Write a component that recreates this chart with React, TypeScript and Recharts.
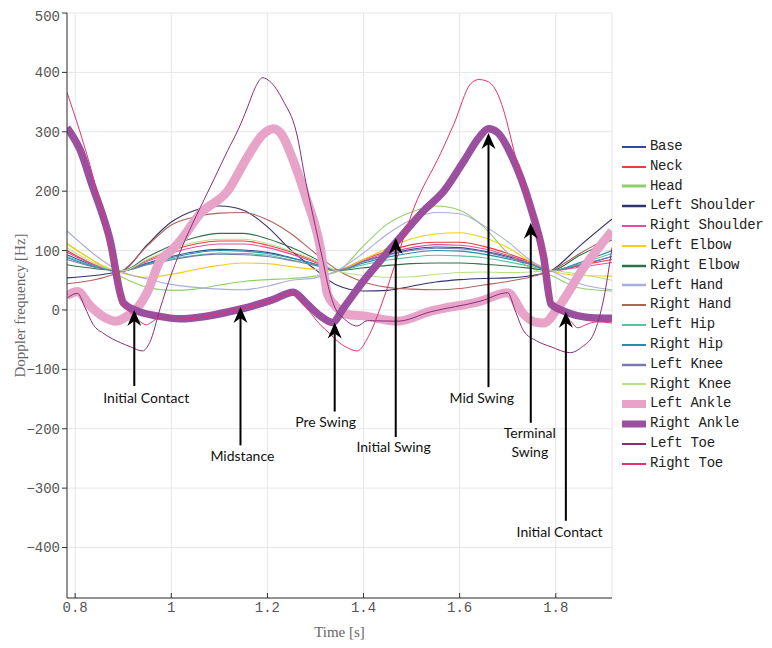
import React from 'react';
import {
  LineChart,
  Line,
  XAxis,
  YAxis,
  CartesianGrid,
  ReferenceLine,
  ReferenceDot,
  Legend,
} from 'recharts';

// ---------- data ----------
const xTicks = [0.8, 1, 1.2, 1.4, 1.6, 1.8];
const yTicks = [-400, -300, -200, -100, 0, 100, 200, 300, 400, 500];

const torsoTime = [0.783, 0.898, 0.95, 1.0, 1.05, 1.1, 1.15, 1.2, 1.25, 1.3, 1.344, 1.4, 1.45, 1.5, 1.55, 1.6, 1.65, 1.7, 1.75, 1.79, 1.85, 1.917];
const base = [93, 66, 79, 90, 98, 102, 101, 97, 88, 77, 66, 82, 93, 102, 106, 105, 99, 90, 77, 66, 75, 90];
const neck = [100, 65, 84, 100, 111, 116, 116, 109, 97, 82, 67, 85, 99, 110, 114, 114, 107, 95, 80, 66, 75, 85];
const head = [112, 55, 38, 33, 35, 42, 48, 51, 53, 57, 64, 108, 145, 165, 175, 168, 140, 96, 70, 58, 37, 32];
const leftShoulder = [54, 66, 110, 148, 168, 175, 168, 140, 100, 68, 42, 32, 33, 40, 47, 51, 53, 54, 58, 66, 108, 153];
const rightShoulder = [97, 66, 82, 96, 106, 111, 111, 105, 94, 80, 66, 83, 96, 105, 110, 109, 103, 92, 78, 66, 72, 80];
const leftElbow = [111, 62, 55, 60, 68, 75, 79, 78, 73, 68, 66, 85, 104, 120, 128, 130, 122, 105, 80, 66, 58, 57];
const rightElbow = [76, 66, 89, 108, 122, 129, 129, 120, 105, 86, 66, 71, 75, 78, 79, 79, 77, 74, 70, 66, 92, 118];
const leftHand = [133, 64, 52, 43, 38, 35, 34, 40, 50, 54, 66, 96, 128, 152, 164, 162, 142, 115, 82, 66, 44, 34];
const rightHand = [44, 66, 108, 143, 157, 163, 164, 152, 128, 95, 68, 47, 38, 35, 34, 36, 42, 48, 56, 66, 95, 125];
const leftHip = [90, 66, 77, 86, 92, 96, 95, 92, 84, 75, 66, 76, 84, 89, 92, 91, 88, 81, 73, 66, 78, 95];
const rightHip = [88, 66, 78, 88, 96, 100, 99, 95, 87, 77, 66, 79, 89, 96, 100, 99, 94, 86, 76, 66, 80, 100];
const leftKnee = [85, 66, 76, 84, 91, 94, 93, 90, 83, 75, 66, 81, 92, 100, 104, 103, 98, 88, 77, 66, 76, 90];
const rightKnee = [105, 66, 85, 102, 114, 119, 119, 112, 99, 83, 66, 58, 55, 56, 60, 63, 64, 63, 64, 66, 60, 50];

const leftAnkleT = [0.783, 0.805, 0.83, 0.86, 0.885, 0.905, 0.929, 0.95, 0.977, 1.0, 1.02, 1.06, 1.117, 1.158, 1.19, 1.213, 1.23, 1.254, 1.28, 1.31, 1.325, 1.34, 1.37, 1.4, 1.47, 1.54, 1.644, 1.7, 1.733, 1.755, 1.775, 1.804, 1.858, 1.917];
const leftAnkleV = [24, 31, 8, -12, -19, -12, 3, 30, 83, 100, 118, 162, 200, 257, 295, 305, 295, 251, 190, 105, 27, 8, -8, -10, -19, -2, 15, 29, -7, -20, -22, 3, 71, 133];

const rightAnkleT = [0.783, 0.81, 0.837, 0.855, 0.873, 0.894, 0.9, 0.93, 0.97, 1.02, 1.07, 1.12, 1.17, 1.21, 1.254, 1.28, 1.31, 1.335, 1.36, 1.4, 1.435, 1.47, 1.525, 1.567, 1.609, 1.64, 1.66, 1.68, 1.706, 1.748, 1.775, 1.79, 1.817, 1.873, 1.917];
const rightAnkleV = [307, 270, 206, 165, 116, 27, 12, -2, -10, -15, -11, -3, 7, 17, 30, 12, -10, -21, 5, 49, 83, 116, 167, 200, 251, 290, 305, 298, 263, 172, 88, 10, -2, -13, -14];

const leftToeT = [0.783, 0.805, 0.82, 0.837, 0.86, 0.894, 0.915, 0.94, 0.955, 0.977, 1.0, 1.03, 1.06, 1.09, 1.117, 1.14, 1.158, 1.175, 1.19, 1.205, 1.233, 1.26, 1.28, 1.3, 1.315, 1.328, 1.34, 1.36, 1.387, 1.408, 1.47, 1.54, 1.644, 1.7, 1.715, 1.733, 1.76, 1.79, 1.83, 1.855, 1.879, 1.9, 1.917];
const leftToeV = [20, 28, 5, -24, -40, -55, -62, -69, -55, 3, 60, 120, 172, 222, 268, 305, 340, 375, 391, 385, 352, 300, 215, 140, 85, 35, 5, -15, -27, -18, -19, -3, 15, 29, 0, -35, -52, -62, -72, -62, -40, 20, 105];

const rightToeT = [0.783, 0.81, 0.837, 0.86, 0.88, 0.894, 0.91, 0.93, 0.948, 0.96, 0.975, 1.0, 1.04, 1.08, 1.12, 1.17, 1.21, 1.254, 1.28, 1.31, 1.33, 1.345, 1.37, 1.387, 1.41, 1.44, 1.47, 1.505, 1.56, 1.588, 1.623, 1.64, 1.66, 1.68, 1.69, 1.72, 1.748, 1.775, 1.79, 1.81, 1.83, 1.846, 1.865, 1.885, 1.917];
const rightToeV = [366, 300, 225, 150, 80, 22, 0, -16, -25, -20, -13, -13, -14, -10, -3, 7, 16, 28, 5, -25, -40, -52, -65, -69, -45, 15, 88, 172, 263, 313, 381, 388, 384, 362, 340, 246, 172, 88, 15, -3, -18, -30, -24, -20, -22];

const seriesNames = ['Base', 'Neck', 'Head', 'Left Shoulder', 'Right Shoulder', 'Left Elbow', 'Right Elbow', 'Left Hand', 'Right Hand', 'Left Hip', 'Right Hip', 'Left Knee', 'Right Knee', 'Left Ankle', 'Right Ankle', 'Left Toe', 'Right Toe'];
const seriesTimes = [torsoTime, torsoTime, torsoTime, torsoTime, torsoTime, torsoTime, torsoTime, torsoTime, torsoTime, torsoTime, torsoTime, torsoTime, torsoTime, leftAnkleT, rightAnkleT, leftToeT, rightToeT];
const seriesValues = [base, neck, head, leftShoulder, rightShoulder, leftElbow, rightElbow, leftHand, rightHand, leftHip, rightHip, leftKnee, rightKnee, leftAnkleV, rightAnkleV, leftToeV, rightToeV];

const annotations = [
  { text: ['Initial Contact'], t: 0.923, tail: -128, tip: 0, lt: 0.948, lv: -148 },
  { text: ['Midstance'], t: 1.144, tail: -228, tip: 5, lt: 1.148, lv: -246 },
  { text: ['Pre Swing'], t: 1.34, tail: -171, tip: -21, lt: 1.321, lv: -189 },
  { text: ['Initial Swing'], t: 1.467, tail: -214, tip: 121, lt: 1.4625, lv: -230 },
  { text: ['Mid Swing'], t: 1.66, tail: -130, tip: 298, lt: 1.646, lv: -148 },
  { text: ['Terminal', 'Swing'], t: 1.748, tail: -190, tip: 147, lt: 1.746, lv: -208 },
  { text: ['Initial Contact'], t: 1.821, tail: -355, tip: -3, lt: 1.808, lv: -374 },
];

// ---------- styles ----------
const colors = ['#2c4d9c', '#ee3b3b', '#8fcf6a', '#33336e', '#e0509a', '#f5cf10', '#2f7048', '#a9acdc', '#b0625c', '#55c4a0', '#2290aa', '#7a7ab0', '#b8e088', '#e8a3c9', '#9a4f9f', '#8a2d78', '#e8306e'];
const widths = [1.1, 1.1, 1.1, 1.1, 1.1, 1.1, 1.1, 1.1, 1.1, 1.1, 1.1, 1.1, 1.1, 9, 7.5, 1, 1];
const legendWidths = [2, 2, 3, 2.5, 2, 2, 2.5, 2.5, 2, 2, 2, 2.5, 2, 8, 7, 2, 2];

const series = seriesNames.map((name, i) => ({
  name,
  color: colors[i],
  width: widths[i],
  legendWidth: legendWidths[i],
  data: seriesTimes[i].map((t, j) => ({ t, v: seriesValues[i][j] })),
}));

const MONO = '"Liberation Mono", "DejaVu Sans Mono", monospace';
const SERIF = '"Liberation Serif", "DejaVu Serif", serif';
const SANS = 'Lato, "Open Sans", sans-serif';

const Arrow = (props: any) => {
  const { x1, y1, x2, y2 } = props;
  const hl = 16;
  const hw = 7;
  const notch = 11;
  return (
    <g>
      <line x1={x1} y1={y1} x2={x2} y2={y2 + notch} stroke="#000" strokeWidth={2} />
      <path d={`M${x2},${y2} L${x2 - hw},${y2 + hl} L${x2},${y2 + notch} L${x2 + hw},${y2 + hl} Z`} fill="#000" />
    </g>
  );
};

const makeLabel = (lines: string[]) => (p: any) => (
  <text x={p.cx} y={p.cy} textAnchor="middle" fontFamily={SANS} fontSize={14} fill="#111">
    {lines.map((l, k) => (
      <tspan key={k} x={p.cx} dy={k === 0 ? 5 : 19}>
        {l}
      </tspan>
    ))}
  </text>
);

const XTick = (p: any) => {
  const { x, y, payload } = p;
  return (
    <g>
      <line x1={x} x2={x} y1={y} y2={y - 5} stroke="#333" strokeWidth={1} />
      <text x={x} y={y + 14} textAnchor="middle" fontFamily={MONO} fontSize={14} fill="#555">
        {String(payload.value)}
      </text>
    </g>
  );
};

const LegendContent = () => (
  <div style={{ fontFamily: MONO, fontSize: 14, letterSpacing: '-0.3px', color: '#222', lineHeight: '19.8px', overflow: 'visible' }}>
    {series.map((s) => (
      <div key={s.name} style={{ display: 'flex', alignItems: 'center', height: 19.8, whiteSpace: 'nowrap' }}>
        <svg width={26} height={12} style={{ marginRight: 4, flex: 'none' }}>
          <line x1={2} x2={26} y1={6} y2={6} stroke={s.color} strokeWidth={s.legendWidth} />
        </svg>
        <span>{s.name}</span>
      </div>
    ))}
  </div>
);

export default function App() {
  return (
    <LineChart width={764} height={632} margin={{ top: 5, right: 160, left: 0, bottom: 0 }}>
      <CartesianGrid stroke="#e6e6e6" strokeWidth={1} />
      <XAxis
        type="number"
        dataKey="t"
        domain={[0.783, 1.917]}
        allowDataOverflow
        ticks={xTicks}
        height={42}
        tickSize={0}
        tickMargin={0}
        tickLine={false}
        tick={<XTick />}
        axisLine={{ stroke: '#333' }}
        label={{
          content: (p: any) => {
            const vb = p.viewBox;
            return (
              <text x={vb.x + vb.width / 2} y={vb.y + 39} textAnchor="middle" fontFamily={SERIF} fontSize={15} fill="#666">
                Time [s]
              </text>
            );
          },
        }}
      />
      <YAxis
        type="number"
        domain={[-485, 500]}
        allowDataOverflow
        ticks={yTicks}
        width={59}
        tickSize={5}
        tickMargin={2}
        tickLine={{ stroke: '#333' }}
        axisLine={{ stroke: '#333' }}
        tickFormatter={(v: number) => String(v).replace('-', '\u2212')}
        tick={{ fontFamily: MONO, fontSize: 14, fill: '#555' }}
        label={{
          content: (p: any) => {
            const vb = p.viewBox;
            const cx = vb.x + 12;
            const cy = vb.y + vb.height / 2;
            return (
              <text x={cx} y={cy} transform={`rotate(-90 ${cx} ${cy})`} textAnchor="middle" dominantBaseline="central" fontFamily={SERIF} fontSize={15} fill="#666">
                Doppler frequency [Hz]
              </text>
            );
          },
        }}
      />
      {series.map((s) => (
        <Line
          key={s.name}
          name={s.name}
          data={s.data}
          dataKey="v"
          type="monotone"
          stroke={s.color}
          strokeWidth={s.width}
          strokeLinejoin="round"
          dot={false}
          activeDot={false}
          isAnimationActive={false}
        />
      ))}
      {annotations.map((a, i) => (
        <ReferenceLine
          key={'arr' + i}
          segment={[
            { x: a.t, y: a.tail },
            { x: a.t, y: a.tip },
          ]}
          shape={Arrow}
          ifOverflow="visible"
        />
      ))}
      {annotations.map((a, i) => (
        <ReferenceDot key={'lab' + i} x={a.lt} y={a.lv} r={0} ifOverflow="visible" shape={makeLabel(a.text)} />
      ))}
      <Legend
        layout="vertical"
        align="center"
        verticalAlign="middle"
        content={<LegendContent />}
        wrapperStyle={{ left: 612, top: 129, width: 152, overflow: 'visible' }}
      />
    </LineChart>
  );
}
